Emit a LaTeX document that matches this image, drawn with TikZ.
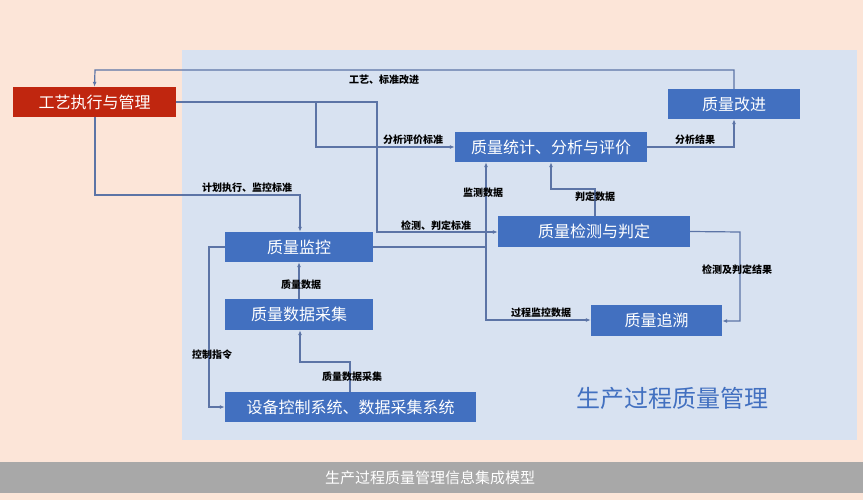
\documentclass[tikz,border=0pt]{standalone}
\usepackage{fontspec}
\setmainfont{Noto Sans CJK SC}
\usetikzlibrary{arrows.meta}
\definecolor{peach}{HTML}{FCE5D8}
\definecolor{panel}{HTML}{D8E2F1}
\definecolor{boxblue}{HTML}{4270C0}
\definecolor{redbox}{HTML}{C0260F}
\definecolor{linec}{HTML}{5C74A6}
\definecolor{barg}{HTML}{A8A8A8}
\tikzset{
 bx/.style={fill=boxblue,text=white,inner sep=0pt,font=\fontsize{16}{16}\selectfont},
 lbl/.style={font=\fontsize{10}{10}\selectfont\bfseries,text=black,inner sep=1pt},
 con/.style={draw=linec,line width=1.2pt,-{Latex[length=5pt,width=4pt]}},
 ln/.style={draw=linec,line width=1.2pt}
}
\begin{document}
\begin{tikzpicture}[x=1pt,y=-1pt]
\useasboundingbox (0,0) rectangle (863,500);
\fill[peach] (0,0) rectangle (863,500);
\fill[panel] (182,50) rectangle (857,440);
\fill[barg] (0,462) rectangle (863,493);
\node[text=white,font=\fontsize{15}{15}\selectfont] (title) at (430,478) {生产过程质量管理信息集成模型};
\node[text=boxblue,font=\fontsize{24}{24}\selectfont] (big) at (672,398) {生产过程质量管理};

\node[bx,fill=redbox,minimum width=163pt,minimum height=30pt] (gy) at (94.5,102) {工艺执行与管理};
\node[bx,minimum width=132pt,minimum height=30pt] (gj) at (734,104) {质量改进};
\node[bx,minimum width=192pt,minimum height=30pt] (tj) at (551,147) {质量统计、分析与评价};
\node[bx,minimum width=192pt,minimum height=31pt] (jc) at (594,231.5) {质量检测与判定};
\node[bx,minimum width=148pt,minimum height=30pt] (jk) at (299,247) {质量监控};
\node[bx,minimum width=148pt,minimum height=31pt] (cj) at (299,314.5) {质量数据采集};
\node[bx,minimum width=131pt,minimum height=31pt] (zs) at (656.5,320.5) {质量追溯};
\node[bx,minimum width=251pt,minimum height=30pt] (sb) at (350.5,407) {设备控制系统、数据采集系统};

\coordinate (a1) at (734,70); \coordinate (a2) at (95,70);
\draw[con] (gj.north) -- (a1) -- (a2) -- (gy.north);
\node[lbl] (l1) at (384,80) {工艺、标准改进};

\coordinate (b1) at (377,102); \coordinate (b2) at (377,232);
\draw[con] (gy.east) -- (b1) -- (b2) -- (jc.west |- b2);
\node[lbl,anchor=south] (l2) at (436,232) {检测、判定标准};
\coordinate (c1) at (316,102); \coordinate (c2) at (316,147);
\draw[con] (c1) -- (c2) -- (tj.west);
\node[lbl,anchor=south] (l3) at (413,146) {分析评价标准};

\coordinate (d1) at (95,195); \coordinate (d2) at (300,195);
\draw[con] (gy.south -| d1) -- (d1) -- (d2) -- (jk.north -| d2);
\node[lbl,anchor=south] (l4) at (247,194) {计划执行、监控标准};

\coordinate (e1) at (486,247); \coordinate (e2) at (486,320);
\draw[ln] (jk.east) -- (e1);
\draw[con] (e2) -- (tj.south -| e2);
\draw[con] (e1) -- (e2) -- (zs.west |- e2);
\node[lbl] (l5) at (483,193) {监测数据};
\node[lbl,anchor=south] (l6) at (541,319) {过程监控数据};

\coordinate (f1) at (595,189); \coordinate (f2) at (551,189);
\draw[con] (jc.north -| f1) -- (f1) -- (f2) -- (tj.south -| f2);
\node[lbl] (l7) at (595,197) {判定数据};

\coordinate (g1) at (740,232); \coordinate (g2) at (740,321);
\draw[con] (jc.east) -- (g1) -- (g2) -- (zs.east |- g2);
\node[lbl] (l8) at (737,270) {检测及判定结果};

\coordinate (h1) at (734,147);
\draw[con] (tj.east) -- (h1) -- (gj.south);
\node[lbl,anchor=south] (l9) at (695,146) {分析结果};

\draw[con] (cj.north) -- (jk.south);
\node[lbl] (l10) at (301,285) {质量数据};

\coordinate (i1) at (350,362); \coordinate (i2) at (300,362);
\draw[con] (sb.north -| i1) -- (i1) -- (i2) -- (cj.south -| i2);
\node[lbl] (l11) at (352,377) {质量数据采集};

\coordinate (j1) at (209,247); \coordinate (j2) at (209,407);
\draw[con] (jk.west) -- (j1) -- (j2) -- (sb.west);
\node[lbl] (l12) at (212,355) {控制指令};
\end{tikzpicture}
\end{document}
